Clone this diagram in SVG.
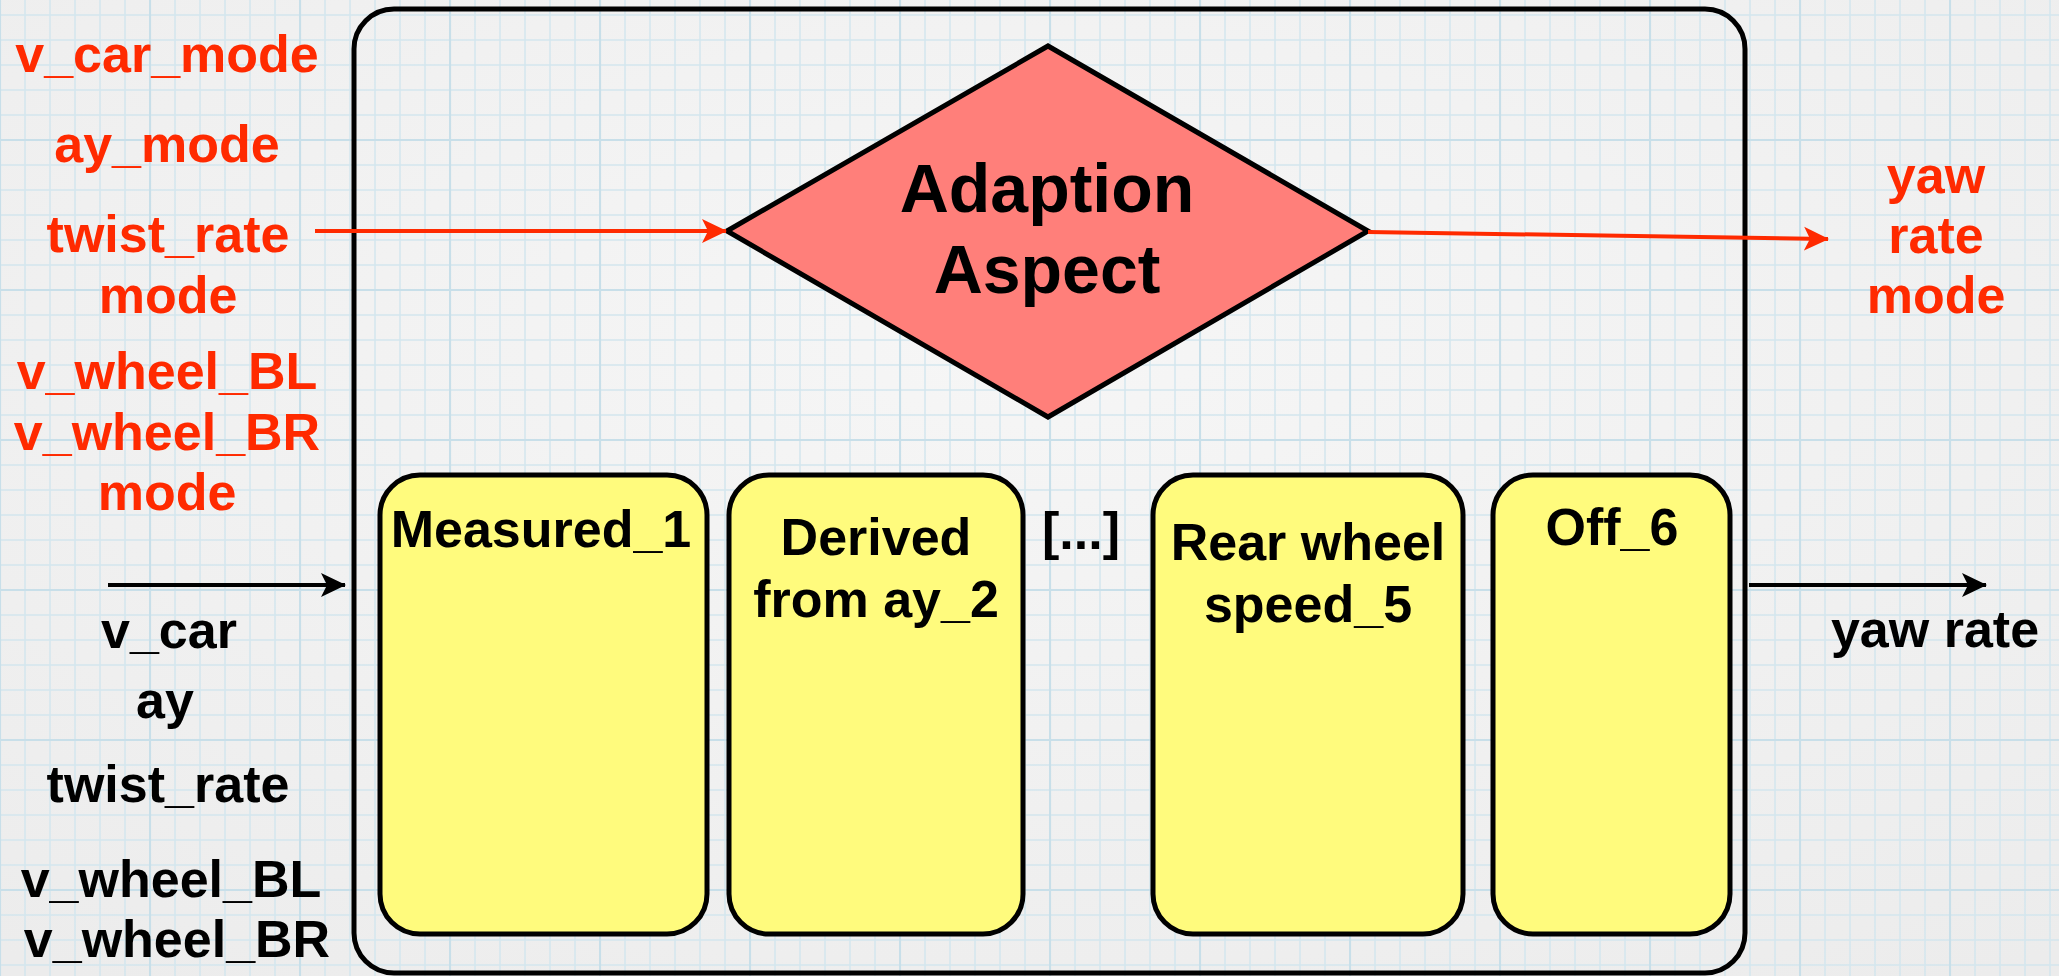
<svg xmlns="http://www.w3.org/2000/svg" width="2059" height="976" viewBox="0 0 2059 976">
  <style>
    .lbl { font-family: "Liberation Sans", Arial, Helvetica, sans-serif; font-weight: bold; font-size: 52px; text-anchor: middle; }
    .red { fill: #ff2a00; }
    .blk { fill: #000000; }
    .title { font-size: 68px; }
    .state { fill: #fffb7d; stroke: #000; stroke-width: 5; }
    .wire-red { stroke: #ff2a00; stroke-width: 4; fill: none; }
    .wire-blk { stroke: #000; stroke-width: 4; fill: none; }
  </style>
  <defs>
    <radialGradient id="paper" cx="0.5" cy="0.35" r="0.8">
      <stop offset="0" stop-color="#f6f6f6"/>
      <stop offset="1" stop-color="#ececec"/>
    </radialGradient>
    <pattern id="grid" patternUnits="userSpaceOnUse" x="-1" y="-11" width="150" height="150">
      <g stroke="#d3e6ee" stroke-width="1.5">
        <path d="M26 0V150M51 0V150M76 0V150M101 0V150M126 0V150"/>
        <path d="M0 26H150M0 51H150M0 76H150M0 101H150M0 126H150"/>
      </g>
      <g stroke="#c8dfe9" stroke-width="2.2">
        <path d="M1 0V150M0 1H150"/>
      </g>
    </pattern>
    <marker id="headRed" viewBox="0 0 26 26" refX="24" refY="13" markerWidth="26" markerHeight="26" markerUnits="userSpaceOnUse" orient="auto">
      <path d="M0 1 L25 13 L0 25 L6 13 Z" fill="#ff2a00"/>
    </marker>
    <marker id="headBlk" viewBox="0 0 26 26" refX="24" refY="13" markerWidth="26" markerHeight="26" markerUnits="userSpaceOnUse" orient="auto">
      <path d="M0 1 L25 13 L0 25 L6 13 Z" fill="#000"/>
    </marker>
  </defs>

  <!-- graph paper background -->
  <rect x="0" y="0" width="2059" height="976" fill="url(#paper)"/>
  <rect x="0" y="0" width="2059" height="976" fill="url(#grid)"/>

  <!-- enclosing component -->
  <g id="component">
    <rect x="354" y="9" width="1391" height="964" rx="40" ry="40" fill="none" stroke="#000" stroke-width="5"/>
  </g>

  <!-- decision -->
  <g id="adaption-aspect">
    <polygon points="727,231 1048,46 1368,231 1048,417" fill="#ff7f7a" stroke="#000" stroke-width="5" stroke-linejoin="miter"/>
    <text class="lbl blk title" x="1047" y="212">Adaption</text>
    <text class="lbl blk title" x="1047" y="293">Aspect</text>
  </g>

  <!-- states -->
  <g id="measured-1">
    <rect class="state" x="380" y="475" width="327" height="459" rx="40" ry="40"/>
    <text class="lbl blk" x="541" y="547">Measured_1</text>
  </g>
  <g id="derived-2">
    <rect class="state" x="729" y="475" width="294" height="459" rx="40" ry="40"/>
    <text class="lbl blk" x="876" y="555">Derived</text>
    <text class="lbl blk" x="876" y="617">from ay_2</text>
  </g>
  <g id="ellipsis">
    <text class="lbl blk" x="1081" y="549">[...]</text>
  </g>
  <g id="rear-wheel-5">
    <rect class="state" x="1153" y="475" width="310" height="459" rx="40" ry="40"/>
    <text class="lbl blk" x="1308" y="560">Rear wheel</text>
    <text class="lbl blk" x="1308" y="622">speed_5</text>
  </g>
  <g id="off-6">
    <rect class="state" x="1493" y="475" width="237" height="459" rx="40" ry="40"/>
    <text class="lbl blk" x="1612" y="545">Off_6</text>
  </g>

  <!-- mode inputs -->
  <g id="mode-inputs">
    <text class="lbl red" x="167" y="72">v_car_mode</text>
    <text class="lbl red" x="167" y="162">ay_mode</text>
    <text class="lbl red" x="168" y="252">twist_rate</text>
    <text class="lbl red" x="168" y="313">mode</text>
    <text class="lbl red" x="167" y="389">v_wheel_BL</text>
    <text class="lbl red" x="167" y="450">v_wheel_BR</text>
    <text class="lbl red" x="167" y="510">mode</text>
  </g>

  <!-- signal inputs -->
  <g id="signal-inputs">
    <text class="lbl blk" x="169" y="648">v_car</text>
    <text class="lbl blk" x="165" y="718">ay</text>
    <text class="lbl blk" x="168" y="802">twist_rate</text>
    <text class="lbl blk" x="171" y="897">v_wheel_BL</text>
    <text class="lbl blk" x="177" y="957">v_wheel_BR</text>
  </g>

  <!-- outputs -->
  <g id="mode-output">
    <text class="lbl red" x="1936" y="193">yaw</text>
    <text class="lbl red" x="1936" y="253">rate</text>
    <text class="lbl red" x="1936" y="313">mode</text>
  </g>
  <g id="signal-output">
    <text class="lbl blk" x="1935" y="647">yaw rate</text>
  </g>

  <!-- connectors -->
  <g id="connectors">
    <line class="wire-red" x1="315" y1="231" x2="726" y2="231" marker-end="url(#headRed)"/>
    <line class="wire-red" x1="1368" y1="232" x2="1828" y2="239" marker-end="url(#headRed)"/>
    <line class="wire-blk" x1="108" y1="585" x2="345" y2="585" marker-end="url(#headBlk)"/>
    <line class="wire-blk" x1="1749" y1="585" x2="1986" y2="585" marker-end="url(#headBlk)"/>
  </g>
</svg>
